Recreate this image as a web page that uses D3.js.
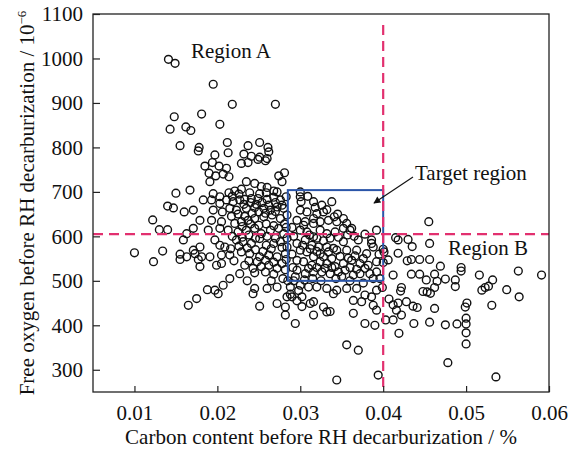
<!DOCTYPE html>
<html>
<head>
<meta charset="utf-8">
<script src="https://cdn.jsdelivr.net/npm/d3@7"></script>
<style>
    body { margin: 0; background: #ffffff; }
    svg { display: block; font-family: "Liberation Serif", "Times New Roman", serif; }
</style>
</head>
<body>
<svg id="chart" width="579" height="450"></svg>
<script>
"use strict";

// axis ticks
var xTicks = [0.01, 0.02, 0.03, 0.04, 0.05, 0.06];
var yTicks = [300, 400, 500, 600, 700, 800, 900, 1000, 1100];

// reference lines and target window
var carbonLimit = 0.04;
var oxygenLimit = 605;
var targetBox = [0.0285, 0.04, 500, 704];

// [carbon %, free oxygen ppm]
var topPoints = [
    [0.0141, 998], [0.0149, 989], [0.0195, 942], [0.0218, 897], [0.0270, 897],
    [0.0148, 869], [0.0181, 875], [0.0143, 841], [0.0162, 846], [0.0168, 838],
    [0.0203, 852], [0.0155, 804], [0.0178, 800], [0.0212, 811], [0.0237, 804],
    [0.0251, 811], [0.0261, 800]
];

var leftPoints = [
    [0.0100, 563], [0.0123, 543], [0.0122, 637], [0.0130, 615], [0.0134, 567],
    [0.0140, 668], [0.0140, 615], [0.0147, 664], [0.0150, 697], [0.0155, 560],
    [0.0155, 548], [0.0177, 548], [0.0188, 480]
];

var corePoints = [
    [0.0177, 792], [0.0197, 783], [0.0213, 788], [0.0232, 785], [0.0241, 780],
    [0.0251, 778], [0.0260, 775], [0.0262, 790],
    [0.0185, 758], [0.0194, 766], [0.0202, 758], [0.0211, 753], [0.0229, 764],
    [0.0237, 766], [0.0249, 773], [0.0258, 770],
    [0.0190, 742], [0.0198, 736], [0.0207, 740], [0.0214, 734], [0.0274, 736],
    [0.0281, 743], [0.0278, 723], [0.0235, 723], [0.0191, 723],
    [0.0245, 719], [0.0253, 712], [0.0260, 710], [0.0268, 702], [0.0167, 704],
    [0.0195, 696], [0.0203, 689], [0.0214, 698], [0.0221, 702], [0.0229, 706],
    [0.0239, 698], [0.0251, 696], [0.0259, 698], [0.0272, 700],
    [0.0183, 682], [0.0193, 682], [0.0203, 674], [0.0211, 682], [0.0219, 678],
    [0.0227, 682], [0.0233, 683], [0.0241, 685], [0.0249, 685], [0.0260, 683],
    [0.0268, 688], [0.0276, 682], [0.0283, 689], [0.0160, 655], [0.0171, 659],
    [0.0195, 659], [0.0206, 655], [0.0215, 663], [0.0223, 659], [0.0235, 663],
    [0.0245, 665], [0.0256, 663], [0.0264, 659], [0.0272, 666], [0.0280, 663],
    [0.0179, 636], [0.0193, 636], [0.0205, 633], [0.0221, 629], [0.0229, 633],
    [0.0237, 636], [0.0245, 640], [0.0256, 644], [0.0266, 648], [0.0276, 640],
    [0.0284, 648],
    [0.0163, 606], [0.0171, 618], [0.0189, 614], [0.0203, 618], [0.0213, 614],
    [0.0225, 610], [0.0235, 614], [0.0245, 618], [0.0253, 606], [0.0264, 614],
    [0.0274, 618], [0.0280, 606],
    [0.0159, 592], [0.0171, 569], [0.0179, 576], [0.0197, 592], [0.0203, 580],
    [0.0209, 576], [0.0223, 592], [0.0231, 588], [0.0241, 584], [0.0251, 595],
    [0.0259, 580], [0.0268, 584], [0.0276, 588], [0.0284, 576],
    [0.0163, 554], [0.0173, 561], [0.0181, 554], [0.0191, 554], [0.0205, 558],
    [0.0215, 558], [0.0229, 565], [0.0239, 561], [0.0251, 554], [0.0262, 558],
    [0.0272, 554], [0.0282, 561], [0.0179, 532], [0.0199, 535], [0.0205, 539],
    [0.0227, 516], [0.0215, 505], [0.0233, 535], [0.0243, 528], [0.0253, 532],
    [0.0262, 535], [0.0272, 528], [0.0278, 539],
    [0.0207, 490], [0.0197, 479], [0.0201, 471], [0.0245, 483], [0.0243, 471],
    [0.0260, 483], [0.0272, 486],
    [0.0175, 460], [0.0165, 445], [0.0251, 443], [0.0272, 449], [0.0282, 441],
    [0.0284, 464]
];

// extra overlapping marks in the densest part of the cloud
var denseCore = [
    [0.0218, 690], [0.0226, 695], [0.0232, 672], [0.0240, 676], [0.0247, 672],
    [0.0254, 676], [0.0262, 670], [0.0270, 676], [0.0278, 670],
    [0.0217, 645], [0.0225, 650], [0.0233, 645], [0.0242, 652], [0.0250, 655],
    [0.0258, 652], [0.0270, 656], [0.0281, 628],
    [0.0230, 622], [0.0240, 628], [0.0250, 625], [0.0259, 628], [0.0268, 624],
    [0.0283, 620], [0.0218, 600], [0.0230, 598], [0.0238, 603], [0.0246, 596],
    [0.0260, 600], [0.0270, 596], [0.0284, 596],
    [0.0216, 572], [0.0226, 578], [0.0236, 574], [0.0246, 570], [0.0255, 566],
    [0.0265, 572], [0.0278, 575], [0.0220, 545], [0.0238, 545], [0.0248, 543],
    [0.0258, 546], [0.0268, 542], [0.0283, 548],
    [0.0245, 518], [0.0258, 520], [0.0268, 515], [0.0282, 525], [0.0236, 500],
    [0.0265, 500], [0.0279, 505]
];

var targetPoints = [
    [0.0300, 700], [0.0300, 689], [0.0301, 678], [0.0316, 678], [0.0326, 670],
    [0.0338, 678], [0.0300, 659], [0.0308, 655], [0.0320, 651], [0.0328, 655],
    [0.0341, 644], [0.0352, 640], [0.0296, 636], [0.0306, 633], [0.0316, 629],
    [0.0324, 633], [0.0334, 636], [0.0344, 633], [0.0356, 629], [0.0362, 618],
    [0.0300, 614], [0.0308, 610], [0.0316, 599], [0.0324, 614], [0.0332, 606],
    [0.0342, 610], [0.0352, 618], [0.0360, 614], [0.0370, 592], [0.0386, 592],
    [0.0392, 614], [0.0296, 584], [0.0306, 592], [0.0314, 580], [0.0322, 576],
    [0.0332, 576], [0.0340, 573], [0.0352, 588], [0.0300, 569], [0.0308, 565],
    [0.0316, 554], [0.0324, 561], [0.0334, 565], [0.0344, 569], [0.0356, 569],
    [0.0368, 569], [0.0380, 561], [0.0388, 576], [0.0296, 546], [0.0304, 543],
    [0.0314, 535], [0.0324, 543], [0.0332, 539], [0.0342, 532], [0.0352, 539],
    [0.0362, 546], [0.0372, 539], [0.0382, 535], [0.0392, 543], [0.0296, 524],
    [0.0306, 516], [0.0316, 520], [0.0326, 520], [0.0336, 516], [0.0346, 520],
    [0.0354, 524], [0.0364, 513], [0.0372, 516], [0.0384, 516], [0.0392, 520],
    [0.0294, 509], [0.0386, 584]
];

var denseTarget = [
    [0.0290, 620], [0.0292, 600], [0.0290, 560], [0.0291, 530], [0.0292, 500],
    [0.0304, 625], [0.0311, 603], [0.0320, 596], [0.0328, 590], [0.0336, 596],
    [0.0346, 598], [0.0357, 603], [0.0365, 600], [0.0378, 605],
    [0.0303, 580], [0.0312, 572], [0.0320, 566], [0.0328, 554], [0.0338, 550],
    [0.0348, 555], [0.0358, 551], [0.0366, 556], [0.0376, 550], [0.0395, 560],
    [0.0310, 528], [0.0320, 530], [0.0330, 528], [0.0338, 530], [0.0350, 510],
    [0.0360, 530], [0.0368, 526], [0.0378, 528], [0.0388, 505], [0.0396, 505],
    [0.0305, 502], [0.0315, 505], [0.0325, 500], [0.0343, 505], [0.0360, 500],
    [0.0376, 495], [0.0316, 640], [0.0332, 660], [0.0345, 650], [0.0309, 690],
    [0.0318, 665]
];

var lowerPoints = [
    [0.0288, 486], [0.0300, 490], [0.0310, 486], [0.0320, 486], [0.0332, 483],
    [0.0344, 479], [0.0356, 483], [0.0368, 483], [0.0378, 468], [0.0386, 464],
    [0.0392, 479], [0.0290, 464], [0.0302, 464], [0.0316, 453], [0.0328, 441],
    [0.0340, 471], [0.0364, 456], [0.0374, 453], [0.0388, 445], [0.0282, 423],
    [0.0294, 404], [0.0316, 423], [0.0332, 430], [0.0364, 427], [0.0378, 404],
    [0.0390, 400], [0.0392, 434], [0.0302, 442], [0.0312, 449], [0.0336, 431],
    [0.0288, 470], [0.0296, 455], [0.0285, 500], [0.0298, 478],
    [0.0356, 356], [0.0370, 344], [0.0344, 277], [0.0394, 288]
];

var rightPoints = [
    [0.0455, 633], [0.0591, 513], [0.0563, 522], [0.0564, 464], [0.0549, 480],
    [0.0531, 445], [0.0536, 284], [0.0478, 316], [0.0500, 358], [0.0500, 383],
    [0.0500, 403], [0.0500, 416], [0.0499, 441], [0.0501, 450], [0.0489, 403],
    [0.0475, 401], [0.0456, 407], [0.0437, 404], [0.0419, 382], [0.0403, 412],
    [0.0412, 412], [0.0516, 513], [0.0532, 502], [0.0519, 479], [0.0523, 485],
    [0.0527, 488], [0.0494, 530], [0.0494, 522], [0.0487, 502], [0.0487, 487],
    [0.0462, 515], [0.0465, 499], [0.0462, 485], [0.0469, 533], [0.0475, 504],
    [0.0456, 584], [0.0456, 548], [0.0452, 502], [0.0453, 475], [0.0457, 472],
    [0.0448, 476], [0.0462, 438], [0.0444, 515], [0.0434, 515], [0.0444, 548],
    [0.0434, 548], [0.0429, 545], [0.0418, 562], [0.0406, 547], [0.0401, 565],
    [0.0418, 592], [0.0415, 597], [0.0430, 593], [0.0435, 577], [0.0412, 513],
    [0.0422, 485], [0.0407, 459], [0.0412, 446], [0.0418, 450], [0.0416, 434],
    [0.0428, 453], [0.0436, 443], [0.0441, 440], [0.0422, 423], [0.0421, 477],
    [0.0400, 541], [0.0400, 571], [0.0399, 485]
];

var allPoints = topPoints.concat(leftPoints, corePoints, denseCore,
    targetPoints, denseTarget, lowerPoints, rightPoints);

// layout
var margin = {left: 93, top: 14, right: 30, bottom: 58};
var width = 579 - margin.left - margin.right;
var height = 450 - margin.top - margin.bottom;

var pink = "#e2306f";
var blue = "#2b55a8";

var svg = d3.select("#chart");
var g = svg.append("g").attr("transform", "translate(" + margin.left + "," + margin.top + ")");

var x = d3.scaleLinear().domain([0.005, 0.06]).range([0, width]);
var y = d3.scaleLinear().domain([250, 1100]).range([height, 0]);

// points (hollow circles)
g.append("g")
    .selectAll("circle")
    .data(allPoints)
    .enter()
    .append("circle")
    .attr("cx", function(d) { return x(d[0]); })
    .attr("cy", function(d) { return y(d[1]); })
    .attr("r", 3.9)
    .attr("fill", "none")
    .attr("stroke", "#111")
    .attr("stroke-width", 1.4);

// target window
g.append("rect")
    .attr("x", x(targetBox[0]))
    .attr("y", y(targetBox[3]))
    .attr("width", x(targetBox[1]) - x(targetBox[0]))
    .attr("height", y(targetBox[2]) - y(targetBox[3]))
    .attr("fill", "none")
    .attr("stroke", blue)
    .attr("stroke-width", 2);

// dashed limits
g.append("line")
    .attr("x1", 0).attr("x2", width)
    .attr("y1", y(oxygenLimit)).attr("y2", y(oxygenLimit))
    .attr("stroke", pink).attr("stroke-width", 2.2)
    .attr("stroke-dasharray", "10,6");

g.append("line")
    .attr("x1", x(carbonLimit)).attr("x2", x(carbonLimit))
    .attr("y1", y(1075)).attr("y2", height)
    .attr("stroke", pink).attr("stroke-width", 2.2)
    .attr("stroke-dasharray", "10,6");

// axes with inward ticks
var xAxis = d3.axisBottom(x).tickValues(xTicks).tickSize(-6).tickPadding(13)
    .tickFormat(d3.format(".2f"));
var yAxis = d3.axisLeft(y).tickValues(yTicks).tickSize(-7).tickPadding(10)
    .tickFormat(d3.format("d"));

var gx = g.append("g").attr("transform", "translate(0," + height + ")").call(xAxis);
var gy = g.append("g").call(yAxis);

[gx, gy].forEach(function(ax) {
    ax.select(".domain").remove();
    ax.selectAll("line").attr("stroke", "#222").attr("stroke-width", 1.2);
    ax.selectAll("text")
        .attr("font-family", "Liberation Serif, serif")
        .attr("font-size", 21)
        .attr("fill", "#111");
});

// frame
g.append("rect")
    .attr("width", width).attr("height", height)
    .attr("fill", "none")
    .attr("stroke", "#222")
    .attr("stroke-width", 1.3);

// annotations
var annot = g.append("g").attr("font-size", 21).attr("fill", "#111");
annot.append("text").attr("x", 98).attr("y", 44).text("Region A");
annot.append("text").attr("x", 355).attr("y", 241).text("Region B");
annot.append("text").attr("x", 322).attr("y", 166).text("Target region");

svg.append("defs").append("marker")
    .attr("id", "head")
    .attr("viewBox", "0 0 10 10")
    .attr("refX", 9).attr("refY", 5)
    .attr("markerWidth", 9).attr("markerHeight", 7)
    .attr("markerUnits", "userSpaceOnUse")
    .attr("orient", "auto")
    .append("path")
    .attr("d", "M0,0 L10,5 L0,10 z")
    .attr("fill", "#111");

g.append("line")
    .attr("x1", 320).attr("y1", 163)
    .attr("x2", 281).attr("y2", 189)
    .attr("stroke", "#111").attr("stroke-width", 1.2)
    .attr("marker-end", "url(#head)");

// axis titles
svg.append("text")
    .attr("x", margin.left + width / 2)
    .attr("y", 444)
    .attr("text-anchor", "middle")
    .attr("font-size", 21)
    .attr("fill", "#111")
    .text("Carbon content before RH decarburization / %");

var yTitle = svg.append("text")
    .attr("transform", "translate(34," + (margin.top + height / 2) + ") rotate(-90)")
    .attr("text-anchor", "middle")
    .attr("font-size", 21)
    .attr("fill", "#111");
yTitle.append("tspan").text("Free oxygen before RH decarburization / 10");
yTitle.append("tspan").attr("font-size", 13).attr("dy", -8).text("\u22126");
</script>
</body>
</html>
